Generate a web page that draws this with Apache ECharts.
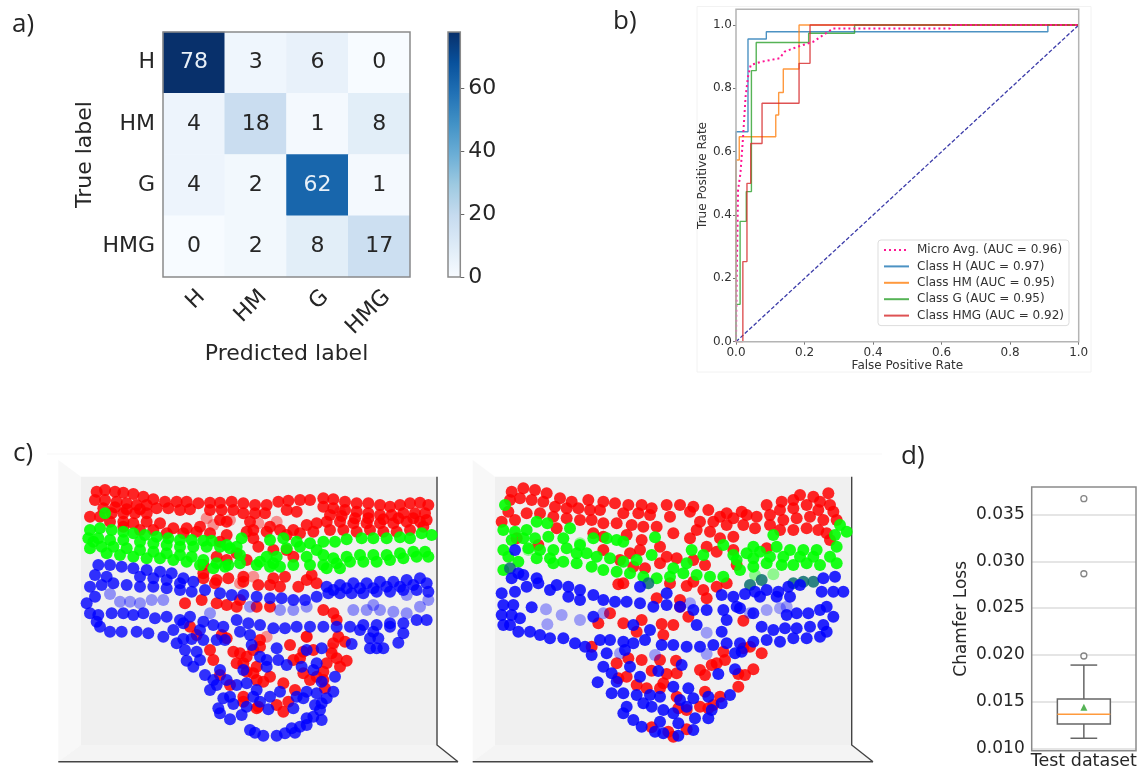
<!DOCTYPE html>
<html><head><meta charset="utf-8">
<style>html,body{margin:0;padding:0;background:#fff}#c{width:1146px;height:771px;filter:blur(0.5px)}</style>
<script src="https://cdn.jsdelivr.net/npm/echarts@6/dist/echarts.min.js"></script>
</head><body><div id="c"></div>
<script>
// a) confusion matrix
const classLabels = ['H','HM','G','HMG'];
const confusion = [[78,3,6,0],[4,18,1,8],[4,2,62,1],[0,2,8,17]];
const colorbarMax = [78];
const colorbarTicks = [0,20,40,60];
const blues = ['#f7fbff','#deebf7','#c6dbef','#9ecae1','#6baed6','#4292c6','#2171b5','#08519c','#08306b'];

// b) ROC curves
const rocTicks = [0,0.2,0.4,0.6,0.8,1];
const rocMicro = [[0,0],[0.002,0.2],[0.006,0.479],[0.013,0.532],[0.02,0.637],[0.028,0.774],[0.035,0.837],[0.043,0.874],[0.074,0.884],[0.127,0.895],[0.142,0.916],[0.181,0.932],[0.225,0.947],[0.254,0.968],[0.283,0.989],[0.624,0.989],[0.624,1],[1,1]];
const rocH = [[0,0],[0,0.663],[0.035,0.663],[0.035,0.956],[0.0885,0.956],[0.0885,0.979],[0.91,0.979],[0.91,1],[1,1]];
const rocHM = [[0,0],[0,0.574],[0.0095,0.574],[0.0095,0.647],[0.116,0.647],[0.116,0.716],[0.1245,0.716],[0.1245,0.787],[0.138,0.787],[0.138,0.861],[0.184,0.861],[0.184,1],[1,1]];
const rocG = [[0,0],[0,0.118],[0.012,0.118],[0.012,0.38],[0.03,0.38],[0.03,0.474],[0.045,0.474],[0.045,0.856],[0.059,0.856],[0.059,0.945],[0.212,0.945],[0.212,0.974],[0.346,0.974],[0.346,1],[1,1]];
const rocHMG = [[0,0],[0.02,0],[0.02,0.253],[0.032,0.253],[0.032,0.5],[0.043,0.5],[0.043,0.626],[0.076,0.626],[0.076,0.753],[0.184,0.753],[0.184,0.879],[0.216,0.879],[0.216,1],[1,1]];
const rocChance = [[0,0],[1,1]];

// c) point clouds, in arbitrary view units
const leftRed = [[170,125],[195,120],[225,125],[250,128],[280,132],[310,140],[340,148],[375,155],[410,155],[440,155],[475,160],[510,158],[540,158],[575,155],[610,160],[645,165],[680,165],[715,155],[745,152],[780,150],[810,150],[850,145],[880,148],[915,155],[950,160],[985,160],[1020,165],[1050,170],[1080,165],[1110,160],[1140,158],[1165,165],
[165,150],[195,150],[230,155],[260,160],[290,165],[320,165],[350,175],[385,175],[420,180],[450,178],[510,180],[545,180],[580,180],[610,190],[645,190],[675,190],[740,180],[770,185],[850,170],[880,175],[915,180],[950,185],[985,190],[1020,195],[1055,195],[1090,190],[1125,190],[1155,190],
[190,175],[225,172],[260,178],[300,178],[870,195],[905,198],[945,205],[985,205],[1030,208],[1075,205],[1120,205],
[150,200],[180,200],[215,190],[250,190],[285,190],[320,190],[210,215],[250,215],[280,220],[320,215],[360,220],[400,235],[440,235],[480,230],[540,210],[560,215],[630,215],[690,230],[720,240],[760,240],[800,225],[830,220],[860,215],[900,215],[940,220],[980,220],[1020,220],[1060,220],[1100,215],[1140,215],[1160,210],
[250,230],[300,240],[340,240],[380,250],[430,250],[470,245],[510,250],[560,255],[640,240],[680,245],[740,255],[780,250],[820,245],[870,240],[910,240],[950,245],[990,240],[1030,245],[1070,245],[1110,240],[1150,230],
[540,275],[620,245],[640,265],[655,290],[700,300],[740,300],[760,320],[590,310],[620,330],[530,320],[560,330],[490,370],[490,385],[530,390],[565,385],[610,380],[700,385],[735,380],[690,405],[720,410],[775,410],[815,375],[830,400],[800,390],[655,405],[610,395],[490,345],
[435,460],[485,450],[525,400],[530,460],[560,465],[590,470],[650,470],[690,470],[600,450],[880,490],[890,510],[850,480],[450,530],[470,555],[545,555],[560,565],[510,600],[520,630],[600,610],[620,620],[580,605],[750,585],[660,570],[660,590],[640,600],[880,580],[915,575],[800,560],[895,560],[820,600],[790,605],[875,610],[920,632],[900,650],[890,625],[860,640],[760,630],[780,625],[650,650],[640,670],[620,665],[590,640],[610,640],[690,680],[670,695],[650,690],[730,700],[790,670],[810,690],[830,680],[855,715],[540,675],[570,705],[610,740],[610,755],[655,770],[650,775],[710,765],[730,785],[745,755],[765,720],[850,665],[850,690]];
const leftRedFaded = [[500,205],[520,225],[570,210],[655,220],[710,215],[900,185],[600,400],[640,380],[800,560],[875,595],[680,560]];
const leftGreen = [[150,240],[180,235],[215,240],[250,245],[280,250],[315,255],[350,260],[385,265],[420,270],[455,270],[490,272],[515,272],[560,285],[605,265],[590,290],[690,270],[730,265],[770,275],[810,280],[850,275],[885,275],[920,268],[965,265],[1000,265],[1040,265],[1080,262],[1110,265],[1145,250],[1175,255],
[145,265],[175,265],[210,270],[250,270],[150,295],[185,290],[220,290],[260,295],[300,300],[340,305],[380,310],[420,315],[455,320],[490,330],[530,340],[565,345],[600,340],[650,345],[690,350],[720,350],[760,345],[810,345],[850,345],[890,340],[930,335],[970,335],[1010,335],[1050,330],[1090,325],[1130,320],[1165,320],[1155,305],[1120,305],[1080,310],[1040,315],[1000,315],[960,315],[920,320],[880,325],
[160,275],[200,310],[240,315],[280,320],[320,325],[360,325],[400,330],[440,335],[480,345],[520,355],[555,350],[680,320],[710,320],[600,315],[570,295],[740,295],[780,290],[830,300],[850,315],[540,290],[500,290],[460,290],[420,290],[380,285],[340,280],[300,275],[700,340],[660,335],[800,320],[900,355],[860,355],[195,190]];
const leftBlue = [[175,345],[210,345],[245,350],[280,355],[320,360],[360,365],[395,370],[430,385],[165,375],[200,380],[300,380],[340,385],[380,390],[420,400],[460,395],
[150,410],[185,405],[220,400],[260,405],[300,410],[340,410],[380,415],[420,420],[455,425],[495,420],[540,430],[575,435],[610,435],[650,440],[690,445],[725,445],[760,450],[795,450],[830,440],[865,430],[900,430],[935,430],[970,430],[1010,425],[1050,425],[1090,420],[1130,420],[1165,425],
[860,410],[900,405],[940,400],[980,400],[1020,395],[1060,395],[1100,390],[1140,385],[1160,400],[1120,405],[1080,410],[1040,410],[1000,415],[960,415],[920,415],[880,420],
[140,460],[165,440],[175,495],[150,490],[170,515],[180,530],[215,490],[250,490],[280,495],[310,490],[345,505],[380,500],[420,510],[450,500],[490,515],[520,525],[550,530],[590,510],[625,520],[660,525],[700,535],[735,535],[770,530],[810,530],[850,530],[890,530],[930,530],[970,525],[1010,525],[1050,520],[1090,520],[1130,510],[1160,510],
[210,545],[245,545],[290,545],[325,550],[370,560],[400,540],[430,520],[480,540],[1090,550],[1050,530],[1000,545],[960,540],
[410,580],[430,567],[455,567],[490,570],[530,570],[555,570],[435,600],[470,605],[440,632],[460,650],[480,630],[495,675],[520,690],[540,660],[600,545],[630,555],[635,585],[710,595],[800,600],[845,595],[935,582],[990,565],[1015,565],[1075,578],[990,595],[1010,595],[1030,595],
[660,620],[680,630],[715,630],[740,645],[610,660],[680,650],[830,640],[820,660],[785,650],[510,720],[530,705],[560,690],[590,705],[620,700],[650,720],[690,740],[720,725],[770,740],[800,725],[830,730],[880,725],[885,680],[845,695],[550,745],[570,740],[580,762],[640,740],[620,770],[660,755],[685,778],[760,775],[790,745],[825,765],[860,745],[840,780],[845,760],[535,775],[540,790],[570,808],[605,795],[800,805],[820,800],[845,810],[800,825],[780,830],[755,835],[765,848],[735,850],[710,857],[670,857],[645,848],[630,840]];
const leftBlueFaded = [[210,432],[240,455],[270,455],[300,460],[335,450],[370,450],[510,490],[630,470],[720,480],[760,480],[800,470],[940,480],[980,480],[1020,480],[1060,485],[1100,490],[1140,470],[1165,450],[1100,435],[1000,465]];

const rightRed = [[155,125],[190,115],[225,120],[260,130],[300,145],[335,155],[385,150],[430,155],[465,160],[505,165],[545,165],[575,175],[620,165],[660,165],[700,170],[745,180],[800,190],[845,185],[920,165],[965,155],[1000,150],[1020,135],[1060,140],[1105,130],[1080,155],[1110,165],
[150,150],[180,145],[215,150],[250,155],[285,170],[320,175],[355,175],[390,180],[420,180],[490,190],[535,190],[570,195],[630,200],[690,185],[780,200],[820,205],[860,195],[890,200],[930,195],[960,180],[1000,175],[1040,165],[1075,180],[1120,185],
[145,185],[125,215],[165,210],[200,190],[240,190],[280,200],[320,205],[360,210],[395,210],[430,220],[470,220],[515,225],[550,230],[590,230],[720,215],[760,215],[800,225],[850,225],[885,235],[930,225],[970,210],[1010,205],[1050,200],[1090,210],[1130,210],
[290,235],[400,250],[430,260],[500,255],[545,270],[600,290],[640,250],[690,265],[710,240],[750,245],[780,265],[820,260],[960,240],[1000,240],[1040,235],[1075,240],[1110,270],[1100,250],[740,290],[770,305],[820,300],[920,295],[700,330],[620,320],[650,325],[540,300],[510,310],[430,300],[480,330],[600,340],[735,345],[830,345],
[170,265],[235,285],[520,350],[555,355],[700,395],[730,420],[680,408],[770,410],[800,400],[490,400],[475,403],[630,400],[590,445],[660,450],[740,445],
[415,520],[395,590],[450,490],[490,520],[530,545],[545,510],[605,522],[640,525],[610,555],[685,500],[660,470],[850,512],[790,605],[870,590],[905,610],[850,595],
[600,630],[648,632],[880,658],[755,645],[770,640],[795,630],[470,640],[505,625],[545,630],[475,685],[500,680],[575,662],[620,672],[650,670],[720,660],[735,675],[855,675],[835,672],[530,705],[560,715],[610,700],[600,715],[835,710],[650,740],[735,725],[780,740],[720,770],[745,775],[760,765],[655,775],[680,780],[575,832],[625,845],[680,838],[640,860]];
const rightGreen = [[135,165],[130,240],[165,245],[200,240],[230,215],[262,220],[330,235],[130,300],[155,270],[190,265],[225,265],[265,260],[310,265],[360,285],[400,265],[440,265],[470,270],[490,275],[585,262],[695,300],[790,285],[880,290],[940,255],[1140,225],[1160,245],[1125,255],
[145,320],[175,335],[130,360],[205,295],[240,300],[280,300],[320,295],[380,310],[410,320],[450,325],[490,335],[530,330],[575,315],[640,355],[680,340],[730,315],[820,315],[860,310],[900,305],[950,290],[990,300],[1030,300],[1070,300],[1130,290],
[230,325],[270,325],[310,335],[350,340],[395,350],[430,360],[470,365],[510,370],[550,380],[590,385],[630,380],[670,370],[710,375],[750,380],[790,380],[840,360],[880,350],[920,340],[965,345],[1000,345],[1040,340],[1080,345],[1130,340],[1110,320],[1060,320],[1020,320],[970,320],[930,320],[880,325],[830,330],[350,310],[280,340]];
const rightGreenFaded = [[940,373],[885,375],[205,300],[360,280]];
const rightTeal = [[870,405],[905,390],[565,400],[1060,395],[1000,400],[150,355],[1030,395]];
const rightBlue = [[165,300],[175,370],[155,385],[190,375],[230,385],
[125,430],[165,425],[200,410],[235,400],[270,420],[290,405],[325,410],[360,420],[325,440],[360,450],[400,435],[430,450],[465,455],[500,455],[540,460],[580,470],[620,465],[660,470],[700,480],[740,480],[785,435],[820,440],[855,432],[885,425],[920,420],[955,425],[985,410],[1020,405],[1090,385],[1125,380],[1085,425],[1120,425],[1150,425],[990,440],[950,440],[900,440],[830,470],[790,480],[620,430],[540,410],
[130,465],[160,465],[125,495],[155,495],[130,525],[150,525],[180,505],[215,472],[175,545],[210,545],[240,555],[270,565],[310,565],[345,580],[375,590],[395,615],[420,570],[450,570],[400,500],
[1100,470],[1120,500],[1080,480],[1045,490],[1010,490],[980,495],[940,540],[975,535],[1010,535],[1050,530],[1090,525],[1100,545],[1080,560],[1040,565],[1000,565],[960,575],[920,570],[880,575],[840,580],[800,580],[760,585],[720,590],[680,590],[640,585],[605,585],[800,510],[840,475],[880,490],[905,530],[570,540],[520,525],[490,575],[520,580],[555,570],[495,600],[785,545],[710,525],
[440,610],[430,650],[455,670],[470,695],[413,697],[455,730],[490,730],[845,605],[825,610],[825,658],[775,672],[810,735],[785,760],[755,780],[665,645],[595,663],[540,680],[510,650],[530,735],[570,735],[640,710],[685,715],[660,750],[700,745],[745,740],
[500,770],[490,790],[520,810],[545,830],[575,770],[610,780],[600,815],[655,820],[705,805],[745,805],[610,850],[655,857],[700,840],[585,845],[600,740],[550,760],[640,790],[680,770]];
const rightBlueFaded = [[258,478],[305,495],[360,510],[262,523],[920,480],[960,475],[980,470],[740,548],[740,612],[585,615],[480,610],[430,490],[870,490],[690,460]];

// d) Chamfer loss box
const lossTicks = [0.010,0.015,0.020,0.025,0.030,0.035];
const lossCategory = ['Test dataset'];
const lossWhiskerLow = 0.01107;
const lossQ1 = 0.0126;
const lossMedian = 0.01364;
const lossQ3 = 0.01527;
const lossWhiskerHigh = 0.0189;
const lossMean = 0.01438;
const lossOutliers = [0.01987,0.02867,0.0367];

const FONT = 'DejaVu Sans', INK = '#262626', SPINE = '#8a8a8a';
const chart = echarts.init(document.getElementById('c'));

const heatData = [];
confusion.forEach((row,r)=>row.forEach((v,c)=>heatData.push({value:[c,r,v],label:{color:v>39?'#e8f0f8':INK}})));

const hiddenAxis = (min,max,inverse)=>({type:'value',min,max,inverse:!!inverse,show:false});
const dot = (x,y,name,data,color,opacity)=>({type:'scatter',xAxisIndex:x,yAxisIndex:y,name,data,symbolSize:12,silent:true,
  itemStyle:{color,opacity},animation:false});
const roc = (name,data,color)=>({type:'line',name,data,xAxisIndex:2,yAxisIndex:2,showSymbol:false,symbol:'none',
  lineStyle:{color,width:1.4,opacity:.8},itemStyle:{color},animation:false});

const cloudFrame = (xl,xb,xr,xc,yt,yo,ybw,ybo)=>[
  {type:'polygon',shape:{points:[[xl,yo],[xb,yt],[xb,ybw],[xl,ybo]]},style:{fill:'#f8f8f8'}},
  {type:'polygon',shape:{points:[[xl,ybo],[xb,ybw],[xr,ybw],[xc,ybo]]},style:{fill:'#f4f4f4'}},
  {type:'rect',shape:{x:xb,y:yt,width:xr-xb,height:ybw-yt},style:{fill:'#f0f0f0'}},
  {type:'polyline',shape:{points:[[xr,yt],[xr,ybw],[xc,ybo]]},style:{stroke:'#444',lineWidth:1.4,fill:null}},
  {type:'line',shape:{x1:xl,y1:ybo,x2:xc,y2:ybo},style:{stroke:'#444',lineWidth:1.4}}
];
const frame = (x,y,width,height,stroke,lineWidth)=>({type:'rect',z:100,shape:{x,y,width,height},style:{fill:null,stroke,lineWidth}});

const panelTitle = (text,left,top)=>({text,left,top,textStyle:{fontFamily:'Open Sans',fontSize:26,fontWeight:'normal',color:INK}});

chart.setOption({
  animation:false,
  backgroundColor:'#fff',
  title:[panelTitle('a)',7,7),panelTitle('b)',608,4),panelTitle('c)',8,436),panelTitle('d)',896,439)],
  grid:[
    {left:163,top:32,width:247,height:245},
    {left:448,top:32,width:12.3,height:245},
    {left:736,top:9.2,width:342.7,height:332.5},
    {left:1031.7,top:487,width:104.3,height:263.7},
    {left:40,top:450,width:420,height:320},
    {left:460,top:450,width:420,height:320}
  ],
  xAxis:[
    {gridIndex:0,type:'category',data:classLabels,name:'Predicted label',nameLocation:'middle',nameGap:66,
     nameTextStyle:{fontFamily:FONT,fontSize:22,color:INK},
     axisLine:{show:false},axisTick:{alignWithLabel:true,length:4,lineStyle:{color:'#666'}},
     axisLabel:{rotate:45,align:'right',verticalAlign:'top',margin:9,interval:0,fontFamily:FONT,fontSize:22,color:INK}},
    {gridIndex:1,type:'category',data:['colorbar'],show:false},
    {gridIndex:2,type:'value',min:0,max:1,name:'False Positive Rate',nameLocation:'middle',nameGap:18,
     nameTextStyle:{fontFamily:FONT,fontSize:12,color:'#333'},
     axisLine:{show:false},splitLine:{show:false},
     axisTick:{length:3,lineStyle:{color:'#777'},customValues:rocTicks},
     axisLabel:{customValues:rocTicks,margin:5,fontFamily:FONT,fontSize:12,color:'#333',formatter:v=>v.toFixed(1)}},
    {gridIndex:3,type:'category',data:lossCategory,axisLine:{show:false},axisTick:{show:false},
     axisLabel:{margin:2,fontFamily:FONT,fontSize:17.5,color:INK}},
    Object.assign(hiddenAxis(0,1260),{gridIndex:4}),
    Object.assign(hiddenAxis(0,1260),{gridIndex:5})
  ],
  yAxis:[
    {gridIndex:0,type:'category',data:classLabels,inverse:true,name:'True label',nameLocation:'middle',nameGap:67,nameRotate:90,
     nameTextStyle:{fontFamily:FONT,fontSize:22,color:INK},
     axisLine:{show:false},axisTick:{alignWithLabel:true,length:4,lineStyle:{color:'#666'}},
     axisLabel:{margin:8,interval:0,fontFamily:FONT,fontSize:22,color:INK}},
    {gridIndex:1,type:'value',position:'right',min:0,max:78,splitLine:{show:false},axisLine:{show:false},
     axisTick:{show:true,length:4,lineStyle:{color:'#666'},customValues:colorbarTicks},
     axisLabel:{customValues:colorbarTicks,margin:8,fontFamily:FONT,fontSize:22,color:INK}},
    {gridIndex:2,type:'value',min:0,max:1.05,name:'True Positive Rate',nameLocation:'middle',nameGap:26,nameRotate:90,
     nameTextStyle:{fontFamily:FONT,fontSize:12,color:'#333'},
     axisLine:{show:false},splitLine:{show:false},
     axisTick:{length:3,lineStyle:{color:'#777'},customValues:rocTicks},
     axisLabel:{customValues:rocTicks,margin:4,fontFamily:FONT,fontSize:12,color:'#333',formatter:v=>v.toFixed(1)}},
    {gridIndex:3,type:'value',min:0.00974,max:0.03795,name:'Chamfer Loss',nameLocation:'middle',nameGap:62,nameRotate:90,
     nameTextStyle:{fontFamily:FONT,fontSize:17,color:INK},
     axisLine:{show:false},splitLine:{show:true,lineStyle:{color:'#dcdcdc',width:1.5}},
     axisTick:{length:4,lineStyle:{color:'#777'},customValues:lossTicks},
     axisLabel:{customValues:lossTicks,margin:7,fontFamily:FONT,fontSize:17,color:INK,formatter:v=>v.toFixed(3)}},
    Object.assign(hiddenAxis(0,960,true),{gridIndex:4}),
    Object.assign(hiddenAxis(0,960,true),{gridIndex:5})
  ],
  visualMap:[{show:false,seriesIndex:0,min:0,max:78,dimension:2,inRange:{color:blues}}],
  legend:{left:878,top:240,orient:'vertical',itemWidth:25,itemHeight:14,itemGap:4.4,padding:[4,5],
    data:['Micro Avg. (AUC = 0.96)','Class H (AUC = 0.97)','Class HM (AUC = 0.95)','Class G (AUC = 0.95)','Class HMG (AUC = 0.92)'],
    itemStyle:{opacity:0},
    backgroundColor:'#fff',borderColor:'#ddd',borderWidth:1,borderRadius:3,z:20,
    textStyle:{fontFamily:FONT,fontSize:12,color:'#333',padding:[0,0,0,3]}},
  graphic:{elements:[
    {type:'rect',shape:{x:697,y:6.5,width:394,height:365.5},style:{fill:null,stroke:'#f2f2f2',lineWidth:1}},
    {type:'line',shape:{x1:47,y1:454,x2:882,y2:454},style:{stroke:'#f7f7f7',lineWidth:1}},
    ...cloudFrame(58.3,81,437,458,476.7,460,745,761.7),
    ...cloudFrame(472.7,495,851.7,873,476.7,460,745,761.7),
    frame(163,32,247,245,SPINE,1.5),
    frame(448,32,12.3,245,SPINE,1.5),
    frame(736,9.2,342.7,332.5,'#b4b4b4',1.5),
    frame(1031.7,487,104.3,263.7,SPINE,1.5)
  ]},
  series:[
    {type:'heatmap',xAxisIndex:0,yAxisIndex:0,data:heatData,label:{show:true,fontFamily:FONT,fontSize:22,formatter:p=>p.value[2]},animation:false},
    {type:'bar',xAxisIndex:1,yAxisIndex:1,data:colorbarMax,barWidth:'100%',silent:true,animation:false,
     itemStyle:{color:new echarts.graphic.LinearGradient(0,1,0,0,blues.map((c,i)=>({offset:i/(blues.length-1),color:c})))}},
    {type:'line',name:'chance',data:rocChance,xAxisIndex:2,yAxisIndex:2,showSymbol:false,symbol:'none',
     lineStyle:{color:'#1a1a9a',width:1.3,type:[4,2],opacity:.85},animation:false},
    roc('Class H (AUC = 0.97)',rocH,'#1f77b4'),
    roc('Class HM (AUC = 0.95)',rocHM,'#ff7f0e'),
    roc('Class G (AUC = 0.95)',rocG,'#2ca02c'),
    roc('Class HMG (AUC = 0.92)',rocHMG,'#d62728'),
    {type:'line',name:'Micro Avg. (AUC = 0.96)',data:rocMicro,xAxisIndex:2,yAxisIndex:2,showSymbol:false,symbol:'none',
     lineStyle:{color:'#ff1493',width:2,type:[2,3]},itemStyle:{color:'#ff1493'},animation:false},
    {type:'custom',xAxisIndex:3,yAxisIndex:3,data:[[0,lossWhiskerLow,lossQ1,lossMedian,lossQ3,lossWhiskerHigh]],silent:true,animation:false,
     encode:{x:0,y:[1,5]},z:5,
     renderItem:(params,api)=>{
       const c=api.coord([api.value(0),api.value(3)]);
       const band=api.size([1,0])[0];
       const boxHalf=band*.254, capHalf=band*.128;
       const y=i=>api.coord([0,api.value(i)])[1];
       const ink={stroke:'#666',lineWidth:1.5,fill:null};
       const ln=(x1,y1,x2,y2,style)=>({type:'line',shape:{x1,y1,x2,y2},style});
       return {type:'group',children:[
         ln(c[0],y(5),c[0],y(4),ink), ln(c[0],y(2),c[0],y(1),ink),
         ln(c[0]-capHalf,y(5),c[0]+capHalf,y(5),ink), ln(c[0]-capHalf,y(1),c[0]+capHalf,y(1),ink),
         {type:'rect',shape:{x:c[0]-boxHalf,y:y(4),width:boxHalf*2,height:y(2)-y(4)},style:{fill:'#fff',stroke:'#666',lineWidth:1.5}},
         ln(c[0]-boxHalf,y(3),c[0]+boxHalf,y(3),{stroke:'#ff9a3c',lineWidth:1.5})
       ]};
     }},
    {type:'scatter',xAxisIndex:3,yAxisIndex:3,name:'outliers',data:lossOutliers.map(v=>[0,v]),symbolSize:6,silent:true,animation:false,z:6,
     itemStyle:{color:'#fff',borderColor:'#666',borderWidth:1.3}},
    {type:'scatter',xAxisIndex:3,yAxisIndex:3,name:'mean',data:[[0,lossMean]],symbol:'triangle',symbolSize:7,silent:true,animation:false,z:7,
     itemStyle:{color:'#2ca02c'}},
    dot(4,4,'L red faded',leftRedFaded,'#ff0000',.4),
    dot(4,4,'L red',leftRed,'#ff0000',.85),
    dot(4,4,'L green',leftGreen,'#00ff00',.9),
    dot(4,4,'L blue faded',leftBlueFaded,'#0000ff',.4),
    dot(4,4,'L blue',leftBlue,'#0000ff',.8),
    dot(5,5,'R red',rightRed,'#ff0000',.85),
    dot(5,5,'R green faded',rightGreenFaded,'#00ff00',.4),
    dot(5,5,'R green',rightGreen,'#00ff00',.9),
    dot(5,5,'R teal',rightTeal,'#0b6f70',.85),
    dot(5,5,'R blue faded',rightBlueFaded,'#0000ff',.35),
    dot(5,5,'R blue',rightBlue,'#0000ff',.85)
  ]
});
</script></body></html>
